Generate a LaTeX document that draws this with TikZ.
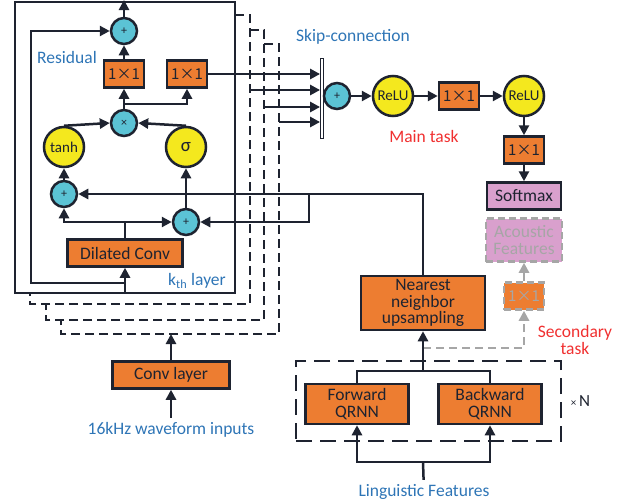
\documentclass[tikz,border=0pt]{standalone}
\usepackage{fontspec}
\setmainfont{Carlito}
\newfontfamily\cjk{Noto Sans CJK SC}
\usetikzlibrary{arrows.meta, positioning}

\definecolor{linecol}{RGB}{30,35,48}
\definecolor{convorange}{RGB}{237,125,49}
\definecolor{addcyan}{RGB}{91,195,213}
\definecolor{actyellow}{RGB}{244,232,30}
\definecolor{softpink}{RGB}{217,160,205}
\definecolor{fadegray}{RGB}{166,166,166}
\definecolor{labelblue}{RGB}{46,117,182}
\definecolor{taskred}{RGB}{240,48,48}

\begin{document}
\begin{tikzpicture}[x=1pt, y=-1pt, line width=2.5pt, color=linecol,
   >={Triangle[length=10pt,width=10pt]},
   box/.style={draw, fill=convorange, inner sep=0pt, minimum height=27pt,
               align=center, font=\fontsize{17.5}{16.5}\selectfont},
   unit/.style={box, minimum width=40pt, font=\cjk\fontsize{15}{17}\selectfont},
   add/.style={circle, draw, fill=addcyan, minimum size=26pt, inner sep=0pt,
               font=\fontsize{12}{12}\selectfont},
   act/.style={circle, draw, fill=actyellow, minimum size=40pt, inner sep=0pt,
               font=\fontsize{15}{16}\selectfont},
   lbl/.style={font=\fontsize{17.5}{19}\selectfont, text=labelblue},
   task/.style={font=\fontsize{17.5}{16.5}\selectfont, text=taskred, align=center},
   layerframe/.style={dash pattern=on 9pt off 5pt},
   faded/.style={draw=fadegray, dash pattern=on 7pt off 4pt, text=fadegray}]
   \useasboundingbox (0,0) rectangle (630,504);

   % k-th layer and the stacked layers behind it
   \node[draw, minimum width=220pt, minimum height=291pt] (layer) at (125,147.5) {};
   \draw[layerframe] (235,15) -| (250,304) -| (30,293);
   \draw[layerframe] (250,30) -| (264,320) -| (46,304);
   \draw[layerframe] (264,44) -| (279,334) -| (61,320);

   \node[add] (top) at (124,31) {+};
   \node[unit] (res) at (124,74) {1×1};
   \node[unit] (skip) at (187,74) {1×1};
   \node[add] (mul) at (124,123) {×};
   \node[act] (tanh) at (64,147) {tanh};
   \node[act, font=\fontsize{19}{20}\selectfont] (sig) at (186,147) {σ};
   \node[add] (addA) at (64,194) {+};
   \node[add] (addB) at (186,222) {+};
   \node[box, minimum width=115pt] (dil) at (125,253) {Dilated Conv};
   \node[lbl] (reslbl) at (67,57) {Residual};
   \node[lbl] (klbl) at (197,281) {k\textsubscript{th} layer};

   \coordinate (out) at (124,0);
   \coordinate (split) at (124,104);
   \coordinate (fork) at (125,222);
   \coordinate (in) at (125,293);
   \coordinate (resin) at (125,283);

   \path[->] (top) edge (out);
   \path[->] (res) edge (top);
   \path[->] (mul) edge (res);
   \draw[->] (split) -| (skip);
   \draw[->] (tanh.north) -- (mul.west);
   \draw[->] (sig.north) -- (mul.east);
   \path[->] (addA) edge (tanh);
   \path[->] (addB) edge (sig);
   \draw (dil.north) -- (fork);
   \draw[->] (fork) -| (addA);
   \draw[->] (fork) -- (addB);
   \draw[->] (in) -- (dil);
   \draw[->] (resin) -| (31,31) -- (top);

   % skip connections
   \node[draw, line width=0.8pt, fill=white, minimum width=3pt, minimum height=80pt,
         inner sep=0pt] (bar) at (322,98) {};
   \coordinate (s2) at (250,90);
   \coordinate (s3) at (264,107);
   \coordinate (s4) at (279,122);
   \draw[->] (skip.east) -- (skip.east -| bar.west);
   \foreach \s in {s2,s3,s4}
      \draw[->] (\s) -- (\s -| bar.west);
   \node[lbl] (skiplbl) at (353,37) {Skip-connection};

   % main task
   \node[add] (sum) at (337,96) {+};
   \node[act] (relu1) at (393,96) {ReLU};
   \node[unit] (post) at (459,96) {1×1};
   \node[act] (relu2) at (524,96) {ReLU};
   \node[unit] (out11) at (524,150) {1×1};
   \node[box, fill=softpink, minimum width=74pt] (soft) at (524,196) {Softmax};
   \node[task] (main) at (424,136) {Main task};

   \path[->] (sum) edge (relu1);
   \path[->] (relu1) edge (post);
   \path[->] (post) edge (relu2);
   \path[->] (relu2) edge (out11);
   \path[->] (out11) edge (soft);

   % secondary task
   \node[box, faded, fill=softpink, minimum width=76pt, minimum height=43pt]
        (acou) at (524,240) {Acoustic\\Features};
   \node[unit, faded] (aux) at (524,296) {1×1};
   \node[task] (second) at (575,340) {Secondary\\task};
   \coordinate (tap) at (423,348);
   \draw[->, fadegray, dash pattern=on 8pt off 5pt] (tap) -| (aux);
   \draw[->, fadegray] (aux) -- (acou);

   % conditioning
   \node[box, minimum width=124pt, minimum height=54pt] (near) at (423,303)
        {Nearest\\neighbor\\upsampling};
   \node[box, minimum width=103pt, minimum height=40pt] (fwd) at (357,404) {Forward\\QRNN};
   \node[box, minimum width=103pt, minimum height=40pt] (bwd) at (490,404) {Backward\\QRNN};
   \node[draw, dash pattern=on 16pt off 8pt, minimum width=265pt, minimum height=80pt]
        (stack) at (428.5,401) {};
   \node[font=\fontsize{17}{17}\selectfont, right=4pt of stack]
        (rep) {{\fontsize{11}{12}\selectfont×}\,N};
   \node[lbl] (ling) at (424,492) {Linguistic Features};

   \coordinate (join) at (423,371);
   \coordinate (lsplit) at (423,462);
   \coordinate (ret) at (423,194);
   \coordinate (tee) at (309,194);
   \draw (fwd.north) |- (join) -| (bwd.north);
   \draw[->] (join) -- (near);
   \draw (ling) -- (lsplit);
   \draw[->] (lsplit) -| (fwd);
   \draw[->] (lsplit) -| (bwd);
   \draw[->] (near) -- (ret) -- (addA);
   \draw[->] (tee) |- (addB);

   % waveform input
   \node[box, minimum width=117pt] (conv) at (171,375) {Conv layer};
   \node[lbl] (wave) at (171,430) {16kHz waveform inputs};
   \coordinate (stackin) at (171,334);
   \draw[->] (conv) -- (stackin);
   \draw[->] (wave) -- (conv);
\end{tikzpicture}
\end{document}
